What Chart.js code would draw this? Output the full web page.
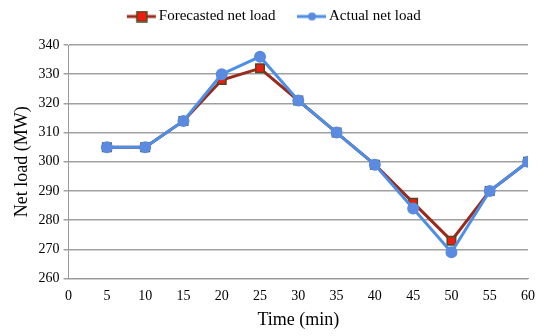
<!DOCTYPE html>
<html>
<head>
<meta charset="utf-8">
<script src="https://cdn.jsdelivr.net/npm/chart.js@4"></script>
<style>
  html, body { margin: 0; padding: 0; background: #fff; }
  #wrap { width: 550px; height: 336px; }
</style>
</head>
<body>
<div id="wrap"><canvas id="chart"></canvas></div>
<script>
const times = [5, 10, 15, 20, 25, 30, 35, 40, 45, 50, 55, 60];
const forecastedLoad = [305, 305, 314, 328, 332, 321, 310, 299, 286, 273, 290, 300];
const actualLoad = [305, 305, 314, 330, 336, 321, 310, 299, 284, 269, 290, 300];

const FC_LINE = "#9a2a1c";
const FC_FILL = "#ee1c10";
const FC_EDGE = "#4b4a20";
const AC_LINE = "#4d8fe6";
const AC_FILL = "#5a8be0";

// legend icon: line + marker, drawn in the right 30px of a wider transparent canvas
function legendIcon(kind) {
  const c = document.createElement("canvas");
  c.width = 48;
  c.height = 12;
  const g = c.getContext("2d");
  const x0 = 18;
  g.strokeStyle = kind === "sq" ? FC_LINE : AC_LINE;
  g.lineWidth = 3;
  g.beginPath();
  g.moveTo(x0, 6);
  g.lineTo(47, 6);
  g.stroke();
  if (kind === "sq") {
    g.fillStyle = FC_FILL;
    g.fillRect(x0 + 10, 1, 10, 10);
    g.strokeStyle = FC_EDGE;
    g.lineWidth = 1.5;
    g.strokeRect(x0 + 10, 1, 10, 10);
  } else {
    g.fillStyle = AC_FILL;
    g.beginPath();
    g.arc(x0 + 15, 6, 4, 0, Math.PI * 2);
    g.fill();
  }
  return c;
}

const pts = (ys) => times.map((t, i) => ({ x: t, y: ys[i] }));

// extra space under the legend
const legendGap = {
  id: "legendGap",
  beforeInit(chart) {
    const fit = chart.legend.fit;
    chart.legend.fit = function () {
      fit.call(this);
      this.height += 11;
    };
  },
};

new Chart(document.getElementById("chart").getContext("2d"), {
  type: "line",
  data: {
    datasets: [
      {
        label: "Forecasted net load",
        data: pts(forecastedLoad),
        borderColor: FC_LINE,
        borderWidth: 3,
        pointStyle: "rect",
        pointRadius: 6,
        pointBackgroundColor: FC_FILL,
        pointBorderColor: FC_EDGE,
        pointBorderWidth: 1.5,
        tension: 0,
        order: 2,
      },
      {
        label: "Actual net load",
        data: pts(actualLoad),
        borderColor: AC_LINE,
        borderWidth: 3,
        pointStyle: "circle",
        pointRadius: 4.5,
        pointBackgroundColor: AC_FILL,
        pointBorderColor: AC_FILL,
        tension: 0,
        order: 1,
      },
    ],
  },
  options: {
    responsive: true,
    maintainAspectRatio: false,
    animation: false,
    layout: { padding: { left: 7, right: 22, top: 0, bottom: 5 } },
    plugins: {
      tooltip: { enabled: false },
      legend: {
        position: "top",
        labels: {
          usePointStyle: true,
          pointStyleWidth: 37,
          color: "#000",
          font: { family: "Liberation Serif", size: 15 },
          padding: 9,
          generateLabels: (chart) =>
            chart.data.datasets.map((ds, i) => ({
              text: ds.label,
              pointStyle: legendIcon(i === 0 ? "sq" : "ci"),
              fillStyle: "transparent",
              strokeStyle: "transparent",
              lineWidth: 0,
              datasetIndex: i,
              fontColor: "#000",
            })),
        },
      },
    },
    scales: {
      x: {
        type: "linear",
        min: 0,
        max: 60,
        ticks: {
          stepSize: 5,
          color: "#000",
          font: { family: "Liberation Serif", size: 14 },
          padding: 4,
        },
        grid: { display: false, drawTicks: true, tickLength: 5, color: "#999" },
        border: { color: "#999" },
        title: {
          display: true,
          text: "Time (min)",
          color: "#000",
          font: { family: "Liberation Serif", size: 18 },
          padding: { top: 1, bottom: 0 },
        },
      },
      y: {
        min: 260,
        max: 340,
        ticks: {
          stepSize: 10,
          color: "#000",
          font: { family: "Liberation Serif", size: 14 },
          padding: 4,
        },
        grid: { color: "#a0a0a0", lineWidth: 1.5, tickLength: 5 },
        border: { color: "#999" },
        title: {
          display: true,
          text: "Net load (MW)",
          color: "#000",
          font: { family: "Liberation Serif", size: 18 },
          padding: { bottom: 2 },
        },
      },
    },
  },
  plugins: [legendGap],
});
</script>
</body>
</html>
